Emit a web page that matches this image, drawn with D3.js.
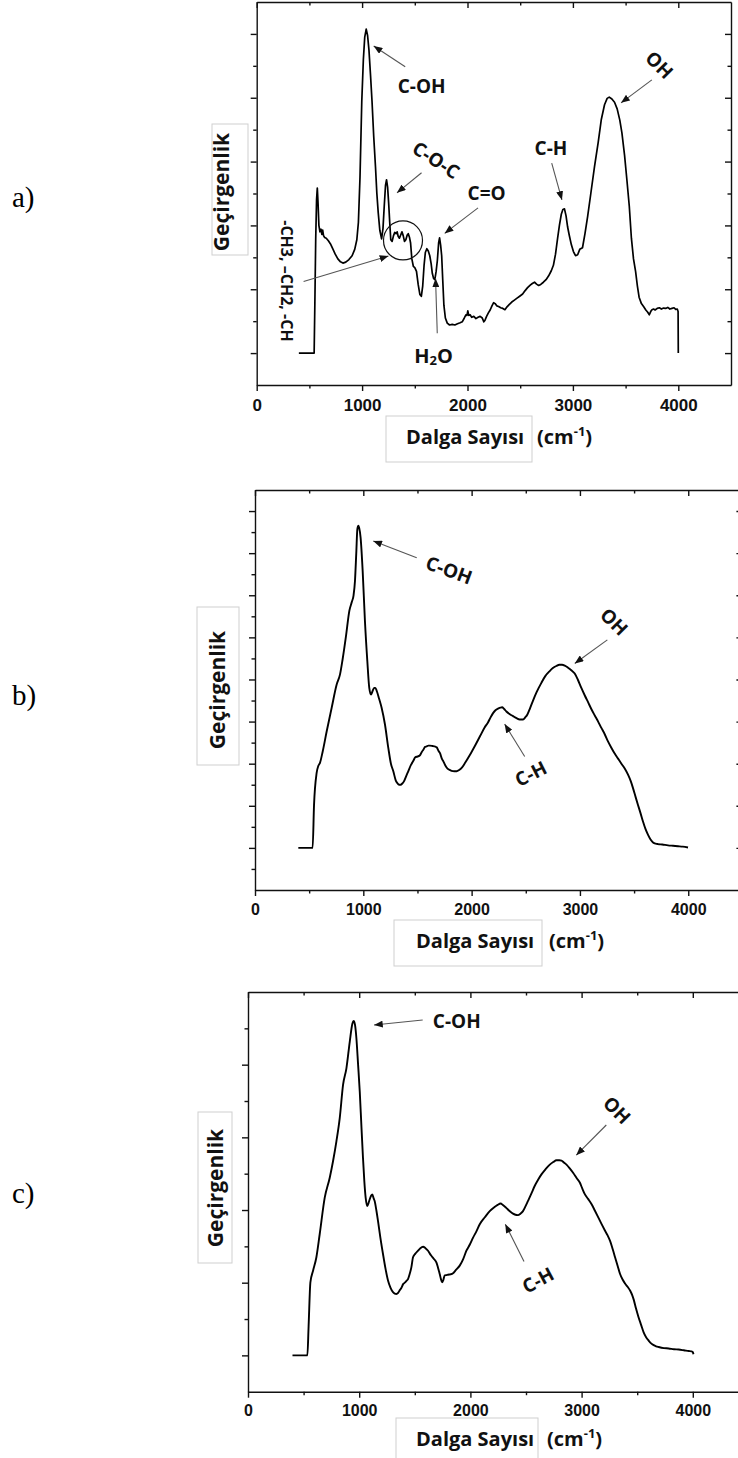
<!DOCTYPE html>
<html>
<head>
<meta charset="utf-8">
<script src="https://cdn.jsdelivr.net/npm/d3@7"></script>
<style>
  html, body { margin: 0; padding: 0; background: #fff; }
  svg { display: block; }
</style>
</head>
<body>
<svg id="fig" width="738" height="1458"></svg>
<script>
// ---- FTIR spectra: wavenumber (cm-1) and relative transmittance ----

// a) spectrum
const waveA = [400,545,552,560,568,575,582,590,600,610,618,626,634,645,660,680,700,720,745,770,795,818,845,875,905,930,950,965,980,997,1012,1025,1039,1052,1065,1080,1094,1110,1127,1140,1153,1168,1185,1198,1210,1222,1232,1242,1252,1262,1272,1285,1298,1310,1322,1332,1342,1354,1366,1378,1390,1402,1415,1428,1438,1450,1460,1472,1486,1500,1516,1532,1548,1562,1575,1588,1600,1614,1628,1642,1655,1666,1678,1690,1702,1714,1726,1735,1745,1755,1765,1776,1790,1808,1830,1855,1880,1905,1930,1950,1970,1985,1995,2003,2012,2025,2040,2060,2080,2100,2120,2140,2155,2165,2180,2198,2215,2232,2248,2262,2278,2295,2315,2335,2355,2375,2395,2420,2445,2470,2495,2523,2545,2570,2595,2615,2636,2655,2675,2695,2720,2745,2770,2795,2815,2835,2855,2872,2890,2905,2920,2935,2950,2965,2985,3005,3025,3045,3065,3091,3115,3140,3170,3205,3240,3269,3300,3325,3345,3370,3395,3420,3445,3465,3490,3513,3535,3555,3575,3595,3612,3628,3650,3672,3692,3710,3725,3738,3750,3765,3780,3800,3820,3840,3860,3880,3900,3920,3940,3960,3975,3990,3998,4000];
const transA = [1.0,1.0,2.6,4.6,5.8,6.17,5.7,5.0,4.8,4.88,4.72,4.85,4.68,4.62,4.6,4.52,4.42,4.28,4.1,3.95,3.86,3.82,3.85,3.93,4.05,4.25,4.55,5.1,6.5,8.9,10.2,10.9,11.15,10.95,10.5,9.7,8.9,7.8,6.84,6.0,5.4,4.85,4.58,4.9,5.6,6.25,6.43,6.2,5.7,5.1,4.55,4.5,4.68,4.78,4.74,4.8,4.66,4.6,4.7,4.8,4.68,4.5,4.55,4.7,4.74,4.62,4.45,3.95,3.72,3.68,3.56,3.15,2.84,2.78,3.1,3.75,4.15,4.27,4.2,4.05,3.8,3.5,3.34,3.3,3.55,3.9,4.45,4.61,4.38,4.05,3.3,2.5,2.1,1.94,1.88,1.9,1.88,1.92,1.95,1.98,2.1,2.2,2.18,2.32,2.18,2.2,2.12,2.15,2.08,2.12,2.15,2.1,1.98,2.02,2.14,2.26,2.35,2.48,2.58,2.55,2.48,2.46,2.42,2.4,2.36,2.45,2.52,2.6,2.66,2.72,2.78,2.85,2.95,3.05,3.13,3.18,3.22,3.16,3.12,3.15,3.22,3.3,3.42,3.58,3.75,4.1,4.6,5.0,5.35,5.5,5.52,5.3,4.95,4.7,4.4,4.18,4.05,4.08,4.25,4.3,4.75,5.28,6.0,6.84,7.6,8.31,8.78,8.98,9.02,8.96,8.86,8.65,8.3,7.9,7.2,6.4,5.6,4.6,3.95,3.55,3.1,2.75,2.55,2.45,2.35,2.28,2.2,2.3,2.36,2.38,2.35,2.4,2.42,2.38,2.41,2.4,2.43,2.38,2.4,2.42,2.37,2.38,2.3,1.0];

// b) spectrum
const waveB = [400,532,545,569,585,600,625,662,708,754,785,809,840,871,895,910,923,935,945,955,962,975,994,1015,1037,1055,1071,1085,1100,1111,1125,1145,1169,1200,1231,1255,1277,1300,1314,1330,1345,1360,1375,1395,1415,1440,1462,1480,1500,1523,1540,1554,1570,1585,1600,1615,1640,1660,1677,1695,1708,1725,1738,1755,1769,1790,1815,1840,1862,1885,1908,1940,1985,2030,2077,2120,2151,2175,2198,2220,2244,2265,2281,2300,2321,2350,2382,2415,2444,2475,2495,2515,2540,2567,2600,2644,2680,2721,2750,2782,2810,2835,2860,2890,2920,2952,2980,3013,3045,3075,3105,3136,3168,3198,3229,3259,3290,3321,3352,3383,3415,3444,3470,3490,3515,3536,3560,3583,3605,3629,3652,3675,3700,3721,3760,3813,3860,3906,3950,3998];
const transB = [1.0,1.0,2.02,2.78,2.95,3.02,3.29,3.77,4.33,4.88,5.12,5.48,6.03,6.63,6.85,7.0,7.34,8.0,8.57,8.65,8.6,8.37,7.58,6.39,5.44,4.8,4.64,4.72,4.8,4.8,4.72,4.55,4.33,3.93,3.37,3.0,2.82,2.6,2.54,2.5,2.5,2.53,2.58,2.7,2.82,2.97,3.07,3.15,3.17,3.2,3.28,3.33,3.4,3.41,3.43,3.43,3.42,3.41,3.39,3.3,3.25,3.12,3.06,2.97,2.91,2.86,2.83,2.82,2.82,2.85,2.9,3.02,3.21,3.42,3.65,3.86,3.98,4.1,4.2,4.27,4.31,4.33,4.34,4.3,4.24,4.18,4.13,4.08,4.05,4.05,4.1,4.17,4.32,4.5,4.7,4.92,5.08,5.2,5.27,5.32,5.35,5.35,5.33,5.28,5.22,5.14,5.0,4.8,4.62,4.46,4.3,4.15,4.0,3.85,3.7,3.53,3.38,3.24,3.12,3.0,2.88,2.74,2.58,2.42,2.2,2.02,1.82,1.62,1.45,1.31,1.2,1.13,1.1,1.09,1.08,1.06,1.05,1.04,1.03,1.01];

// c) spectrum
const waveC = [400,534,545,561,585,615,645,690,735,765,795,825,855,885,915,939,950,962,975,990,1005,1020,1034,1046,1058,1073,1085,1094,1108,1118,1130,1139,1155,1169,1190,1214,1237,1259,1282,1304,1320,1334,1350,1364,1380,1395,1410,1425,1439,1455,1469,1484,1505,1529,1550,1574,1596,1619,1635,1649,1670,1694,1710,1724,1735,1745,1757,1769,1785,1799,1820,1844,1870,1904,1935,1964,1995,2024,2055,2084,2130,2174,2217,2245,2271,2295,2322,2350,2383,2405,2428,2450,2473,2495,2518,2548,2578,2610,2639,2675,2714,2745,2774,2800,2819,2840,2864,2895,2925,2955,2985,3005,3030,3060,3090,3120,3151,3180,3211,3234,3256,3280,3301,3325,3346,3370,3392,3415,3437,3455,3470,3490,3512,3535,3557,3580,3602,3625,3648,3670,3693,3740,3783,3830,3873,3920,3964,3990,4000,4006];
const transC = [1.0,1.0,1.8,3.01,3.33,3.7,4.34,5.34,5.89,6.35,6.89,7.53,8.45,8.9,9.63,10.13,10.2,10.1,9.72,9.0,8.26,7.3,6.44,5.8,5.34,5.11,5.2,5.29,5.4,5.43,5.32,5.25,4.98,4.7,4.25,3.79,3.38,3.06,2.86,2.74,2.7,2.69,2.72,2.79,2.86,2.96,3.0,3.05,3.1,3.25,3.42,3.7,3.8,3.88,3.95,3.99,3.95,3.88,3.8,3.74,3.66,3.56,3.4,3.24,3.1,3.01,3.08,3.2,3.21,3.22,3.23,3.26,3.35,3.47,3.65,3.88,4.05,4.24,4.42,4.61,4.8,4.97,5.08,5.14,5.18,5.13,5.06,4.98,4.9,4.87,4.86,4.9,4.97,5.1,5.25,5.45,5.66,5.84,5.98,6.12,6.25,6.32,6.37,6.37,6.36,6.31,6.25,6.14,6.02,5.88,5.75,5.6,5.43,5.3,5.16,4.98,4.79,4.61,4.43,4.3,4.15,3.92,3.7,3.45,3.24,3.08,2.97,2.88,2.78,2.66,2.52,2.28,2.05,1.84,1.64,1.5,1.41,1.33,1.28,1.25,1.23,1.2,1.19,1.17,1.16,1.14,1.12,1.11,1.09,1.03];

// axis ticks
const xMajor = [0, 1000, 2000, 3000, 4000];
const xMinor = [500, 1500, 2500, 3500];
const yMajorA = [1, 3, 5, 7, 9, 11];
const yMinorA = [2, 4, 6, 8, 10];
const yMajorB = [1, 2, 3, 4, 5, 6, 7, 8, 9];
const yMinorB = [0.5, 1.5, 2.5, 3.5, 4.5, 5.5, 6.5, 7.5, 8.5];
const yMajorC = [1, 3, 5, 7, 9];
const yMinorC = [2, 4, 6, 8, 10];

// ---- drawing ----
const svg = d3.select("#fig");
const SANS = "'Open Sans', 'DejaVu Sans', sans-serif";
const ARIAL = "'Liberation Sans', Arial, sans-serif";
const SERIF = "'Liberation Serif', 'Times New Roman', serif";

svg.append("defs").append("marker")
  .attr("id", "head").attr("viewBox", "0 0 10 8")
  .attr("refX", 10).attr("refY", 4)
  .attr("markerWidth", 9).attr("markerHeight", 7)
  .attr("markerUnits", "userSpaceOnUse").attr("orient", "auto")
  .append("path").attr("d", "M0,0L10,4L0,8Z").attr("fill", "#111");

function drawPanel(p) {
  const g = svg.append("g");
  const x = d3.scaleLinear().domain([0, 4500]).range(p.xr);
  const y = d3.scaleLinear().domain([0, p.ymax]).range(p.yr);
  const [xl, xrt] = p.xr, [yb, yt] = p.yr;
  const ax = g.append("g");

  // bottom axis with labels
  ax.append("g").attr("transform", `translate(0,${yb})`)
    .call(d3.axisBottom(x).tickValues(xMajor).tickSize(6).tickSizeOuter(0)
      .tickPadding(p.tickPad).tickFormat(d3.format("d")))
    .attr("font-family", ARIAL).attr("font-weight", 700).attr("font-size", p.tickFont);
  ax.append("g").attr("transform", `translate(0,${yb})`)
    .call(d3.axisBottom(x).tickValues(xMinor).tickSize(3.5).tickFormat(""))
    .call(s => s.select(".domain").remove());
  // top axis, inward ticks
  ax.append("g").attr("transform", `translate(0,${yt})`)
    .call(d3.axisTop(x).tickValues(xMajor).tickSize(-6).tickSizeOuter(0).tickFormat(""));
  ax.append("g").attr("transform", `translate(0,${yt})`)
    .call(d3.axisTop(x).tickValues(xMinor).tickSize(-3.5).tickFormat(""))
    .call(s => s.select(".domain").remove());
  // left axis
  ax.append("g").attr("transform", `translate(${xl},0)`)
    .call(d3.axisLeft(y).tickValues(p.yMajor).tickSize(6).tickSizeOuter(0).tickFormat(""));
  ax.append("g").attr("transform", `translate(${xl},0)`)
    .call(d3.axisLeft(y).tickValues(p.yMinor).tickSize(3.5).tickFormat(""))
    .call(s => s.select(".domain").remove());
  // right axis, inward ticks
  ax.append("g").attr("transform", `translate(${xrt},0)`)
    .call(d3.axisRight(y).tickValues(p.yMajor).tickSize(-6).tickSizeOuter(0).tickFormat(""));
  ax.append("g").attr("transform", `translate(${xrt},0)`)
    .call(d3.axisRight(y).tickValues(p.yMinor).tickSize(-3.5).tickFormat(""))
    .call(s => s.select(".domain").remove());
  ax.selectAll("path.domain, line").attr("stroke", "#111").attr("stroke-width", 1.4);
  ax.selectAll("text").attr("fill", "#111");

  // spectrum
  const pts = d3.zip(p.wave, p.trans);
  g.append("path").datum(pts)
    .attr("fill", "none").attr("stroke", "#000").attr("stroke-width", p.lw)
    .attr("stroke-linejoin", "round")
    .attr("d", d3.line().x(d => x(d[0])).y(d => y(d[1])).curve(p.curve));

  // y title box
  const yt0 = p.yTitle;
  g.append("rect").attr("x", yt0.x).attr("y", yt0.y).attr("width", yt0.w).attr("height", yt0.h)
    .attr("fill", "#fff").attr("stroke", "#cfcfcf").attr("stroke-width", 1);
  g.append("text").attr("transform", `translate(${yt0.bx},${yt0.cy}) rotate(-90)`)
    .attr("text-anchor", "middle").attr("font-family", SANS).attr("font-weight", 700)
    .attr("font-size", 21).attr("fill", "#111").text("Geçirgenlik");

  // x title box
  const xt = p.xTitle;
  g.append("rect").attr("x", xt.x).attr("y", xt.y).attr("width", xt.w).attr("height", 46)
    .attr("fill", "#fff").attr("stroke", "#cfcfcf").attr("stroke-width", 1);
  g.append("text").attr("x", xt.tx).attr("y", xt.base)
    .attr("font-family", SANS).attr("font-weight", 700).attr("font-size", 20)
    .attr("fill", "#111").text("Dalga Sayısı");
  const u = g.append("text").attr("x", xt.ux).attr("y", xt.base)
    .attr("font-family", SANS).attr("font-weight", 700).attr("font-size", 20).attr("fill", "#111");
  u.append("tspan").text("(cm");
  u.append("tspan").attr("font-size", 13).attr("dy", -8).text("-1");
  u.append("tspan").attr("dy", 8).text(")");

  // panel letter
  g.append("text").attr("x", 12).attr("y", p.letterY)
    .attr("font-family", SERIF).attr("font-size", 29).attr("fill", "#000").text(p.letter);

  // annotations (positions in data units)
  const ann = g.append("g");
  p.arrows.forEach(a => {
    ann.append("line")
      .attr("x1", x(a[0])).attr("y1", y(a[1])).attr("x2", x(a[2])).attr("y2", y(a[3]))
      .attr("stroke", "#555").attr("stroke-width", 1.1).attr("marker-end", "url(#head)");
  });
  p.notes.forEach(n => {
    const t = ann.append("text")
      .attr("transform", `translate(${x(n.at[0])},${y(n.at[1])}) rotate(${n.rot || 0})`)
      .attr("text-anchor", "middle").attr("dy", "0.36em")
      .attr("font-family", SANS).attr("font-weight", 700)
      .attr("font-size", n.size || 19).attr("fill", "#111");
    if (n.sub) {
      t.append("tspan").text(n.text[0]);
      t.append("tspan").attr("font-size", 13).attr("dy", 2).text(n.text[1]);
      t.append("tspan").attr("dy", -2).text(n.text[2]);
    } else {
      t.text(n.text);
    }
  });
  if (p.circle) {
    ann.append("circle").attr("cx", x(p.circle[0])).attr("cy", y(p.circle[1])).attr("r", p.circle[2])
      .attr("fill", "none").attr("stroke", "#111").attr("stroke-width", 1.2);
  }
}

drawPanel({
  letter: "a)", letterY: 207,
  wave: waveA, trans: transA, curve: d3.curveLinear, lw: 1.7,
  xr: [256.7, 731], yr: [385, 2], ymax: 12,
  yMajor: yMajorA, yMinor: yMinorA, tickFont: 17, tickPad: 8,
  yTitle: { x: 212, y: 124, w: 36, h: 131, bx: 229, cy: 192 },
  xTitle: { x: 386, y: 416, w: 146, tx: 406, ux: 537, base: 444 },
  arrows: [
    [1409, 9.97, 1110, 10.62],
    [3749, 9.56, 3457, 8.84],
    [2799, 6.95, 2896, 5.80],
    [1564, 6.65, 1331, 6.02],
    [2100, 5.55, 1783, 4.75],
    [1713, 1.62, 1697, 3.34],
    [445, 3.24, 1250, 4.04]
  ],
  notes: [
    { text: "C-OH", at: [1565, 9.37] },
    { text: "OH", at: [3821, 10.03], rot: 45 },
    { text: "C-H", at: [2792, 7.43] },
    { text: "C-O-C", at: [1701, 7.05], rot: 33 },
    { text: "C=O", at: [2181, 6.02] },
    { text: ["H", "2", "O"], sub: true, at: [1678, 0.91], size: 20 },
    { text: "-CH3, \u2013CH2, -CH", at: [287, 3.26], rot: 90, size: 16 }
  ],
  circle: [1388, 4.53, 19.5]
});

drawPanel({
  letter: "b)", letterY: 705,
  wave: waveB, trans: transB, curve: d3.curveMonotoneX, lw: 1.9,
  xr: [255, 742.4], yr: [890, 490], ymax: 9.5,
  yMajor: yMajorB, yMinor: yMinorB, tickFont: 16, tickPad: 8,
  yTitle: { x: 197, y: 607, w: 42, h: 158, bx: 225, cy: 690 },
  xTitle: { x: 394, y: 920, w: 148, tx: 416, ux: 549, base: 948 },
  arrows: [
    [1493, 7.89, 1092, 8.29],
    [3253, 5.94, 2952, 5.38],
    [2490, 3.17, 2305, 3.94]
  ],
  notes: [
    { text: "C-OH", at: [1791, 7.6], rot: 20 },
    { text: "OH", at: [3315, 6.37], rot: 45 },
    { text: "C-H", at: [2545, 2.76], rot: -27 }
  ]
});

drawPanel({
  letter: "c)", letterY: 1203,
  wave: waveC, trans: transC, curve: d3.curveMonotoneX, lw: 1.9,
  xr: [248, 748.4], yr: [1391.7, 992], ymax: 11,
  yMajor: yMajorC, yMinor: yMinorC, tickFont: 16, tickPad: 7,
  yTitle: { x: 198, y: 1112, w: 34, h: 151, bx: 223, cy: 1188 },
  xTitle: { x: 396, y: 1418, w: 142, tx: 416, ux: 547, base: 1446 },
  arrows: [
    [1571, 10.23, 1133, 10.09],
    [3222, 7.34, 2952, 6.51],
    [2482, 3.58, 2314, 4.61]
  ],
  notes: [
    { text: "C-OH", at: [1877, 10.2] },
    { text: "OH", at: [3318, 7.75], rot: 45 },
    { text: "C-H", at: [2608, 3.07], rot: -28 }
  ]
});
</script>
</body>
</html>
